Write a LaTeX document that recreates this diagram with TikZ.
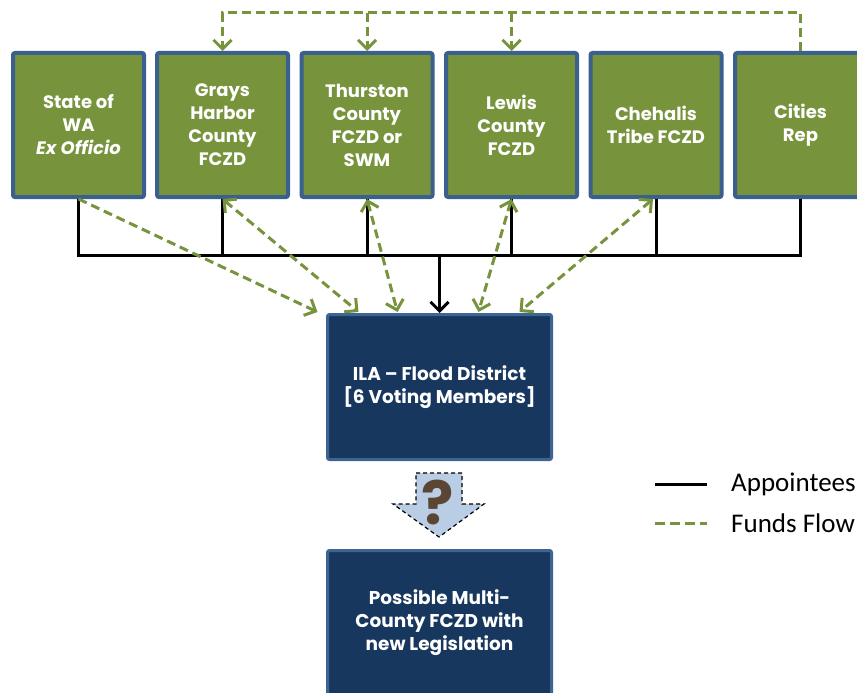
\documentclass[tikz,border=0pt]{standalone}
\usepackage{fontspec}
\setmainfont{Poppins}
\newfontfamily\legendfont{Carlito}
\usetikzlibrary{arrows.meta,calc}
\definecolor{boxgreen}{HTML}{77933C}
\definecolor{boxblue}{HTML}{3A6090}
\definecolor{navy}{HTML}{17375E}
\definecolor{navyedge}{HTML}{3E6494}
\definecolor{fundgreen}{HTML}{77933C}
\definecolor{qfill}{HTML}{B9CDE5}
\definecolor{qbrown}{HTML}{5B4535}
\begin{document}
\begin{tikzpicture}[x=1pt,y=-1pt,
  member/.style={draw=boxblue, line width=4pt, fill=boxgreen, rounded corners=2pt,
    minimum width=131pt, minimum height=144pt, text=white, align=center, inner sep=0pt,
    font=\bfseries\fontsize{18}{23}\selectfont},
  district/.style={draw=navyedge, line width=3pt, fill=navy, rounded corners=2pt,
    minimum width=224pt, minimum height=145pt, text=white, align=center, inner sep=0pt,
    font=\bfseries\fontsize{18.5}{23}\selectfont},
  appt/.style={black, line width=3pt},
  fund/.style={fundgreen, line width=3pt, dash pattern=on 9pt off 5pt},
  tipend/.style={-{Straight Barb[length=9pt,width=18pt]}},
  tipboth/.style={{Straight Barb[length=9pt,width=18pt]}-{Straight Barb[length=9pt,width=18pt]}},
  legendtext/.style={anchor=west, inner sep=0pt, font=\legendfont\fontsize{27}{30}\selectfont}
]
\useasboundingbox (0,0) rectangle (857,693);
\clip (0,0) rectangle (857,693);

% member boxes
\node[member] (c1) at (78.5,125) {State of\\WA\\\textit{Ex Officio}};
\node[member] (c2) at (222.5,125) {Grays\\Harbor\\County\\FCZD};
\node[member] (c3) at (367,125) {Thurston\\County\\FCZD or\\SWM};
\node[member] (c4) at (511.5,125) {Lewis\\County\\FCZD};
\node[member] (c5) at (656,125) {Chehalis\\Tribe FCZD};
\node[member] (c6) at (800.5,125) {Cities\\Rep};

% district boxes
\node[district] (ila) at (439.5,387) {ILA -- Flood District\\{[}6 Voting Members{]}};
\node[district] (multi) at (439.5,623) {Possible Multi-\\County FCZD with\\new Legislation};

% top funds flow
\coordinate (top) at (0,13);
\draw[fund,tipend] (c6.north) -- (c6.north |- top) -- (c2.north |- top) -- (c2.north);
\draw[fund,tipend] (c3.north |- top) -- (c3.north);
\draw[fund,tipend] (c4.north |- top) -- (c4.north);

% appointees
\coordinate (bus) at (0,255);
\draw[appt] (c1.south) |- (c6.south |- bus) -- (c6.south);
\draw[appt] (c2.south) -- (c2.south |- bus);
\draw[appt] (c3.south) -- (c3.south |- bus);
\draw[appt] (c4.south) -- (c4.south |- bus);
\draw[appt] (c5.south) -- (c5.south |- bus);
\draw[appt,tipend] (ila.north |- bus) -- (ila.north);

% funds flow to district
\draw[fund,tipend] (c1.south) -- ($(ila.north)+(-122,-1)$);
\draw[fund,tipboth] (c2.south) -- ($(ila.north)+(-81,-1)$);
\draw[fund,tipboth] (c3.south) -- ($(ila.north)+(-42,-1)$);
\draw[fund,tipboth] (c4.south) -- ($(ila.north)+(39,-1)$);
\draw[fund,tipboth] ($(c5.south)+(-3,0)$) -- ($(ila.north)+(80,-1)$);

% question arrow
\draw[fill=qfill, draw=black, line width=1.2pt, dash pattern=on 4pt off 3pt]
  (416,473) -- (462,473) -- (462,504) -- (484,504) -- (439,537) -- (393,504) -- (416,504) -- cycle;
\node[text=qbrown, font=\bfseries\fontsize{60}{60}\selectfont, inner sep=0pt] (q) at (438,503) {?};

% legend
\coordinate (la1) at (655,484);
\coordinate (la2) at (707,484);
\coordinate (lb1) at (655,523);
\coordinate (lb2) at (707,523);
\draw[appt] (la1) -- (la2);
\draw[fund, dash pattern=on 10pt off 5pt] (lb1) -- (lb2);
\node[legendtext] (lta) at (731,484) {Appointees};
\node[legendtext] (ltb) at (731,523) {Funds Flow};
\end{tikzpicture}
\end{document}
